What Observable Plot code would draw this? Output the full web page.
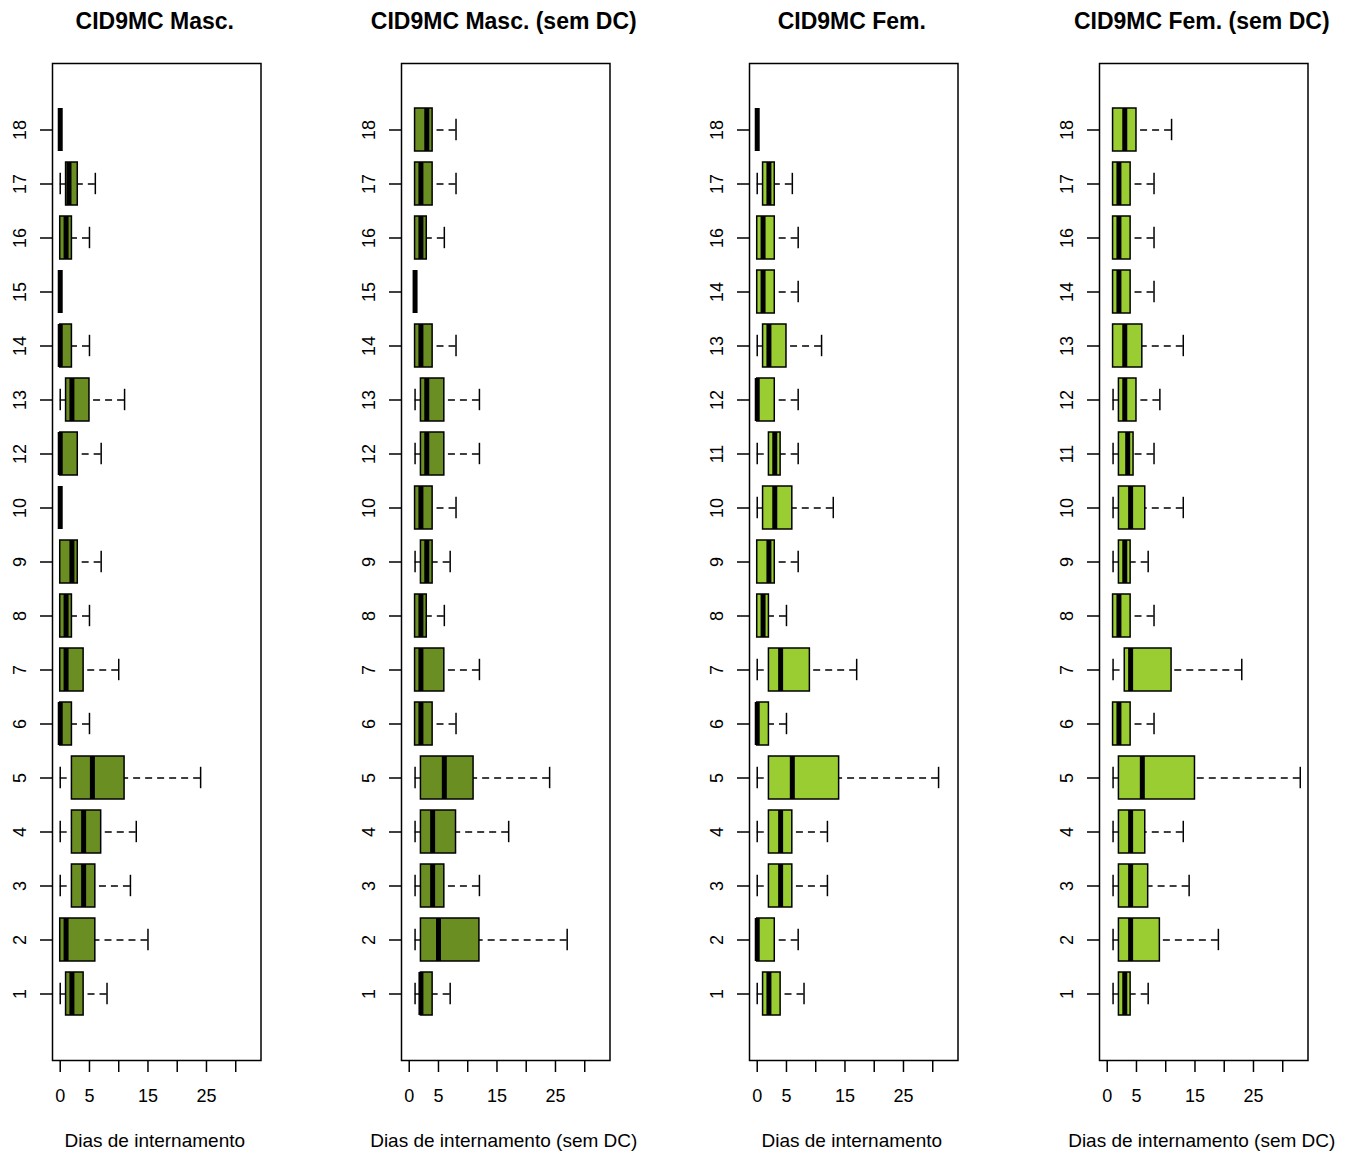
<!DOCTYPE html>
<html>
<head>
<meta charset="utf-8">
<script src="https://cdn.jsdelivr.net/npm/d3@7"></script>
<script src="https://cdn.jsdelivr.net/npm/@observablehq/plot@0.6"></script>
<style>
  html, body { margin: 0; padding: 0; background: #fff; overflow: hidden; }
  body { font-family: "Liberation Sans", Arial, sans-serif; color: #000; }
  #root { position: relative; width: 1353px; height: 1153px; }
  .panel { position: absolute; top: 0; }
</style>
</head>
<body>
<div id="root"></div>
<script>
// ---------- DATA ----------
const panelTitles = ["CID9MC Masc.", "CID9MC Masc. (sem DC)", "CID9MC Fem.", "CID9MC Fem. (sem DC)"];
const axisTitles = ["Dias de internamento", "Dias de internamento (sem DC)", "Dias de internamento", "Dias de internamento (sem DC)"];

const mascCats = ["1","2","3","4","5","6","7","8","9","10","12","13","14","15","16","17","18"];
const femCats  = ["1","2","3","4","5","6","7","8","9","10","11","12","13","14","16","17","18"];

// CID9MC Masc.
const mascMin = [0, 0, 0, 0, 0,   0, 0, 0, 0, 0, 0, 0, 0, 0, 0, 0,   0];
const mascQ1  = [1, 0, 2, 2, 2,   0, 0, 0, 0, 0, 0, 1, 0, 0, 0, 1,   0];
const mascMed = [2, 1, 4, 4, 5.5, 0, 1, 1, 2, 0, 0, 2, 0, 0, 1, 1.5, 0];
const mascQ3  = [4, 6, 6, 7, 11,  2, 4, 2, 3, 0, 3, 5, 2, 0, 2, 3,   0];
const mascMax = [8, 15, 12, 13, 24, 5, 10, 5, 7, 0, 7, 11, 5, 0, 5, 6, 0];

// CID9MC Masc. (sem DC)
const mascSdMin = [1, 1, 1, 1, 1,  1, 1, 1, 1, 1, 1, 1, 1, 1, 1, 1, 1];
const mascSdQ1  = [2, 2, 2, 2, 2,  1, 1, 1, 2, 1, 2, 2, 1, 1, 1, 1, 1];
const mascSdMed = [2, 5, 4, 4, 6,  2, 2, 2, 3, 2, 3, 3, 2, 1, 2, 2, 3];
const mascSdQ3  = [4, 12, 6, 8, 11, 4, 6, 3, 4, 4, 6, 6, 4, 1, 3, 4, 4];
const mascSdMax = [7, 27, 12, 17, 24, 8, 12, 6, 7, 8, 12, 12, 8, 1, 6, 8, 8];

// CID9MC Fem.
const femMin = [0, 0, 0, 0, 0,  0, 0, 0, 0, 0, 0, 0, 0, 0, 0, 0, 0];
const femQ1  = [1, 0, 2, 2, 2,  0, 2, 0, 0, 1, 2, 0, 1, 0, 0, 1, 0];
const femMed = [2, 0, 4, 4, 6,  0, 4, 1, 2, 3, 3, 0, 2, 1, 1, 2, 0];
const femQ3  = [4, 3, 6, 6, 14, 2, 9, 2, 3, 6, 4, 3, 5, 3, 3, 3, 0];
const femMax = [8, 7, 12, 12, 31, 5, 17, 5, 7, 13, 7, 7, 11, 7, 7, 6, 0];

// CID9MC Fem. (sem DC)
const femSdMin = [1, 1, 1, 1, 1,  1, 1, 1, 1, 1,   1,   1, 1, 1, 1, 1, 1];
const femSdQ1  = [2, 2, 2, 2, 2,  1, 3, 1, 2, 2,   2,   2, 1, 1, 1, 1, 1];
const femSdMed = [3, 4, 4, 4, 6,  2, 4, 2, 3, 4,   3.5, 3, 3, 2, 2, 2, 3];
const femSdQ3  = [4, 9, 7, 6.5, 15, 4, 11, 4, 4, 6.5, 4.5, 5, 6, 4, 4, 4, 5];
const femSdMax = [7, 19, 14, 13, 33, 8, 23, 8, 7, 13, 8, 9, 13, 8, 8, 8, 11];

const xTicks = [0, 5, 10, 15, 20, 25, 30];
const xTickLabels = [0, 5, 15, 25];
const xDomain = [-1.32, 34.32];

const olive = "#6B8E23";
const yellowGreen = "#9ACD32";

// ---------- LAYOUT ----------
const frameLefts = [51.5, 401, 749, 1099];
const frameW = 208.5;
const mL = 52, mR = 45, mT = 63, mB = 93;
const H = 1153;

function table(cats, mn, q1, md, q3, mx) {
  return cats.map((c, i) => ({cat: c, min: mn[i], q1: q1[i], med: md[i], q3: q3[i], max: mx[i]}));
}

const panels = [
  {title: panelTitles[0], xlab: axisTitles[0], cats: mascCats, color: olive,
   data: table(mascCats, mascMin, mascQ1, mascMed, mascQ3, mascMax)},
  {title: panelTitles[1], xlab: axisTitles[1], cats: mascCats, color: olive,
   data: table(mascCats, mascSdMin, mascSdQ1, mascSdMed, mascSdQ3, mascSdMax)},
  {title: panelTitles[2], xlab: axisTitles[2], cats: femCats, color: yellowGreen,
   data: table(femCats, femMin, femQ1, femMed, femQ3, femMax)},
  {title: panelTitles[3], xlab: axisTitles[3], cats: femCats, color: yellowGreen,
   data: table(femCats, femSdMin, femSdQ1, femSdMed, femSdQ3, femSdMax)}
];

const root = document.getElementById("root");
const stapleInset = 10.8;

panels.forEach((p, k) => {
  const chart = Plot.plot({
    width: mL + frameW + mR,
    height: H,
    marginLeft: mL, marginRight: mR, marginTop: mT, marginBottom: mB,
    style: {background: "transparent", overflow: "visible", fontFamily: "'Liberation Sans', Arial, sans-serif", color: "#000"},
    x: {type: "linear", domain: xDomain, axis: null},
    y: {type: "band", domain: p.cats, reverse: true, paddingInner: 0.2, paddingOuter: 0.78, axis: null},
    marks: [
      // whiskers (dashed)
      Plot.ruleY(p.data, {y: "cat", x1: "max", x2: "q3", stroke: "#000", strokeWidth: 1.4, strokeDasharray: "7,5"}),
      Plot.ruleY(p.data, {y: "cat", x1: "min", x2: "q1", stroke: "#000", strokeWidth: 1.4, strokeDasharray: "7,5"}),
      // staples
      Plot.tickX(p.data, {y: "cat", x: "max", stroke: "#000", strokeWidth: 1.5, insetTop: stapleInset, insetBottom: stapleInset}),
      Plot.tickX(p.data, {y: "cat", x: "min", stroke: "#000", strokeWidth: 1.5, insetTop: stapleInset, insetBottom: stapleInset}),
      // boxes
      Plot.barX(p.data, {y: "cat", x1: "q1", x2: "q3", fill: p.color, stroke: "#000", strokeWidth: 1.5}),
      // medians
      Plot.tickX(p.data, {y: "cat", x: "med", stroke: "#000", strokeWidth: 5}),
      // frame
      Plot.frame({stroke: "#000", strokeWidth: 1.5}),
      // y ticks (labels drawn separately, rotated)
      Plot.axisY({tickSize: 12, tickFormat: () => "", label: null, strokeWidth: 1.5}),
      Plot.text(p.cats, {y: d => d, text: d => d, frameAnchor: "left", dx: -32.5, rotate: -90,
        textAnchor: "middle", lineAnchor: "middle", fontSize: 18, fill: "#000"}),
      // x axis
      Plot.axisX({ticks: xTicks, tickSize: 12, tickPadding: 17, label: null, fontSize: 18, strokeWidth: 1.5,
        tickFormat: d => xTickLabels.includes(d) ? String(d) : ""}),
      // x axis title
      Plot.text([p.xlab], {text: d => d, frameAnchor: "bottom", dy: 86.5, dx: -2, lineAnchor: "bottom", fontSize: 19, fill: "#000"}),
      // panel title
      Plot.text([p.title], {text: d => d, frameAnchor: "top", dy: -35, dx: -2, lineAnchor: "bottom", fontSize: 23, fontWeight: "bold", fill: "#000"})
    ]
  });
  const wrap = document.createElement("div");
  wrap.className = "panel";
  wrap.style.left = (frameLefts[k] - mL) + "px";
  wrap.appendChild(chart);
  root.appendChild(wrap);
});
</script>
</body>
</html>
